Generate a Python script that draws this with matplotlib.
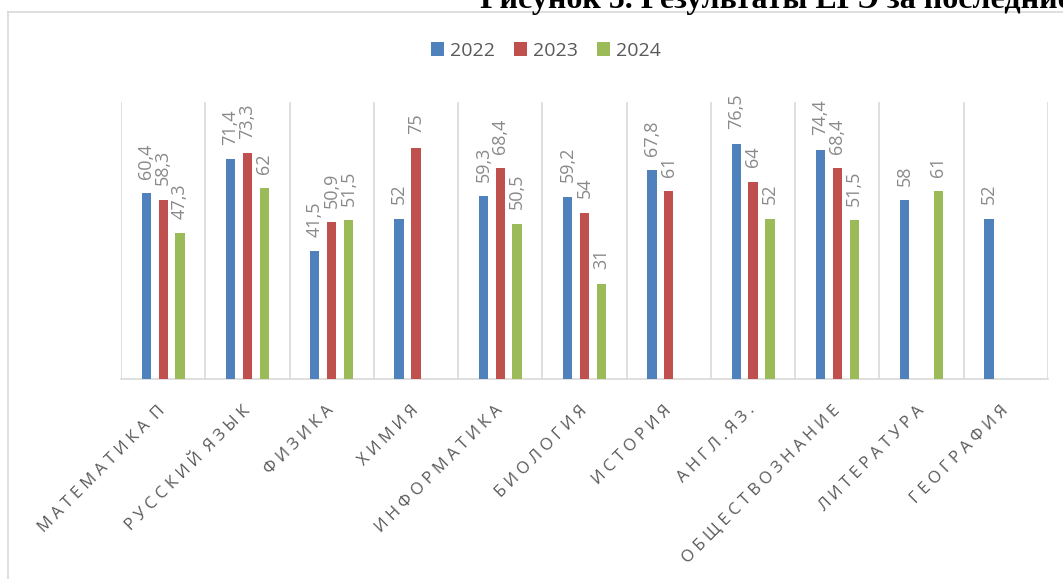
import numpy as np
import matplotlib
matplotlib.use("Agg")
import matplotlib.pyplot as plt
from matplotlib.lines import Line2D

subjects = ["МАТЕМАТИКА П", "РУССКИЙ ЯЗЫК", "ФИЗИКА", "ХИМИЯ", "ИНФОРМАТИКА",
            "БИОЛОГИЯ", "ИСТОРИЯ", "АНГЛ.ЯЗ.", "ОБЩЕСТВОЗНАНИЕ", "ЛИТЕРАТУРА",
            "ГЕОГРАФИЯ"]
years = ["2022", "2023", "2024"]
v2022 = [60.4, 71.4, 41.5, 52, 59.3, 59.2, 67.8, 76.5, 74.4, 58, 52]
v2023 = [58.3, 73.3, 50.9, 75, 68.4, 54, 61, 64, 68.4, np.nan, np.nan]
v2024 = [47.3, 62, 51.5, np.nan, 50.5, 31, np.nan, 52, 51.5, 61, np.nan]
colors = ["#4F81BD", "#C0504D", "#9BBB59"]

plt.rcParams['font.family'] = ['Open Sans', 'DejaVu Sans']

fig = plt.figure(figsize=(10.63, 5.79), dpi=100)
W, H = 1063, 579
ax = fig.add_axes([121 / W, 1 - 379 / H, (1048 - 121) / W, (379 - 102) / H])

x = np.arange(len(subjects))
series = [v2022, v2023, v2024]
for i, (vals, col, yr) in enumerate(zip(series, colors, years)):
    pos = x + (i - 1) * 0.2
    ax.bar(pos, vals, width=0.11, color=col, label=yr, zorder=3)
    for p, v in zip(pos, vals):
        if np.isnan(v):
            continue
        txt = ("%g" % v).replace(".", ",")
        ax.annotate(txt, (p, v), xytext=(0, 10.5), textcoords="offset points",
                    rotation=90, ha="center", va="bottom", fontsize=13,
                    color="#898989")

ax.set_xlim(-0.5, len(subjects) - 0.5)
ax.set_ylim(0, 90)
ax.set_yticks([])
ax.set_xticks(x)
# excel-style expanded letter spacing
spaced = ["  ".join(" ".join(w) for w in s.split(" ")) for s in subjects]
ax.set_xticklabels(spaced, rotation=45, ha="right", va="center",
                   rotation_mode="anchor", fontsize=12, color="#595959")
ax.tick_params(axis="x", length=0, pad=21)
ax.set_xticks(np.arange(-0.5, len(subjects)), minor=True)
ax.tick_params(axis="x", which="minor", length=0)
ax.grid(which="minor", axis="x", color="#d9d9d9", linewidth=1.2, zorder=0)
for s in ["top", "left", "right"]:
    ax.spines[s].set_visible(False)
ax.spines["bottom"].set_color("#d9d9d9")
ax.spines["bottom"].set_linewidth(1.2)

fig.legend(loc="center", bbox_to_anchor=(546 / W, 1 - 51 / H), ncol=3,
           frameon=False, fontsize=14, handlelength=0.67, handleheight=0.72,
           handletextpad=0.3, columnspacing=1.0, labelcolor="#595959")

# chart frame
fig.add_artist(Line2D([8 / W, 8 / W], [0, 1 - 12 / H], color="#d9d9d9", lw=1.2))
fig.add_artist(Line2D([8 / W, 1], [1 - 12 / H, 1 - 12 / H], color="#d9d9d9", lw=1.2))

fig.text(480 / W, 1 - 8 / H, "Рисунок 5. Результаты ЕГЭ за последние три года",
         fontfamily="Liberation Serif", fontweight="bold", fontsize=23,
         va="baseline", ha="left", color="black")

fig.savefig("out.png", dpi=100)
